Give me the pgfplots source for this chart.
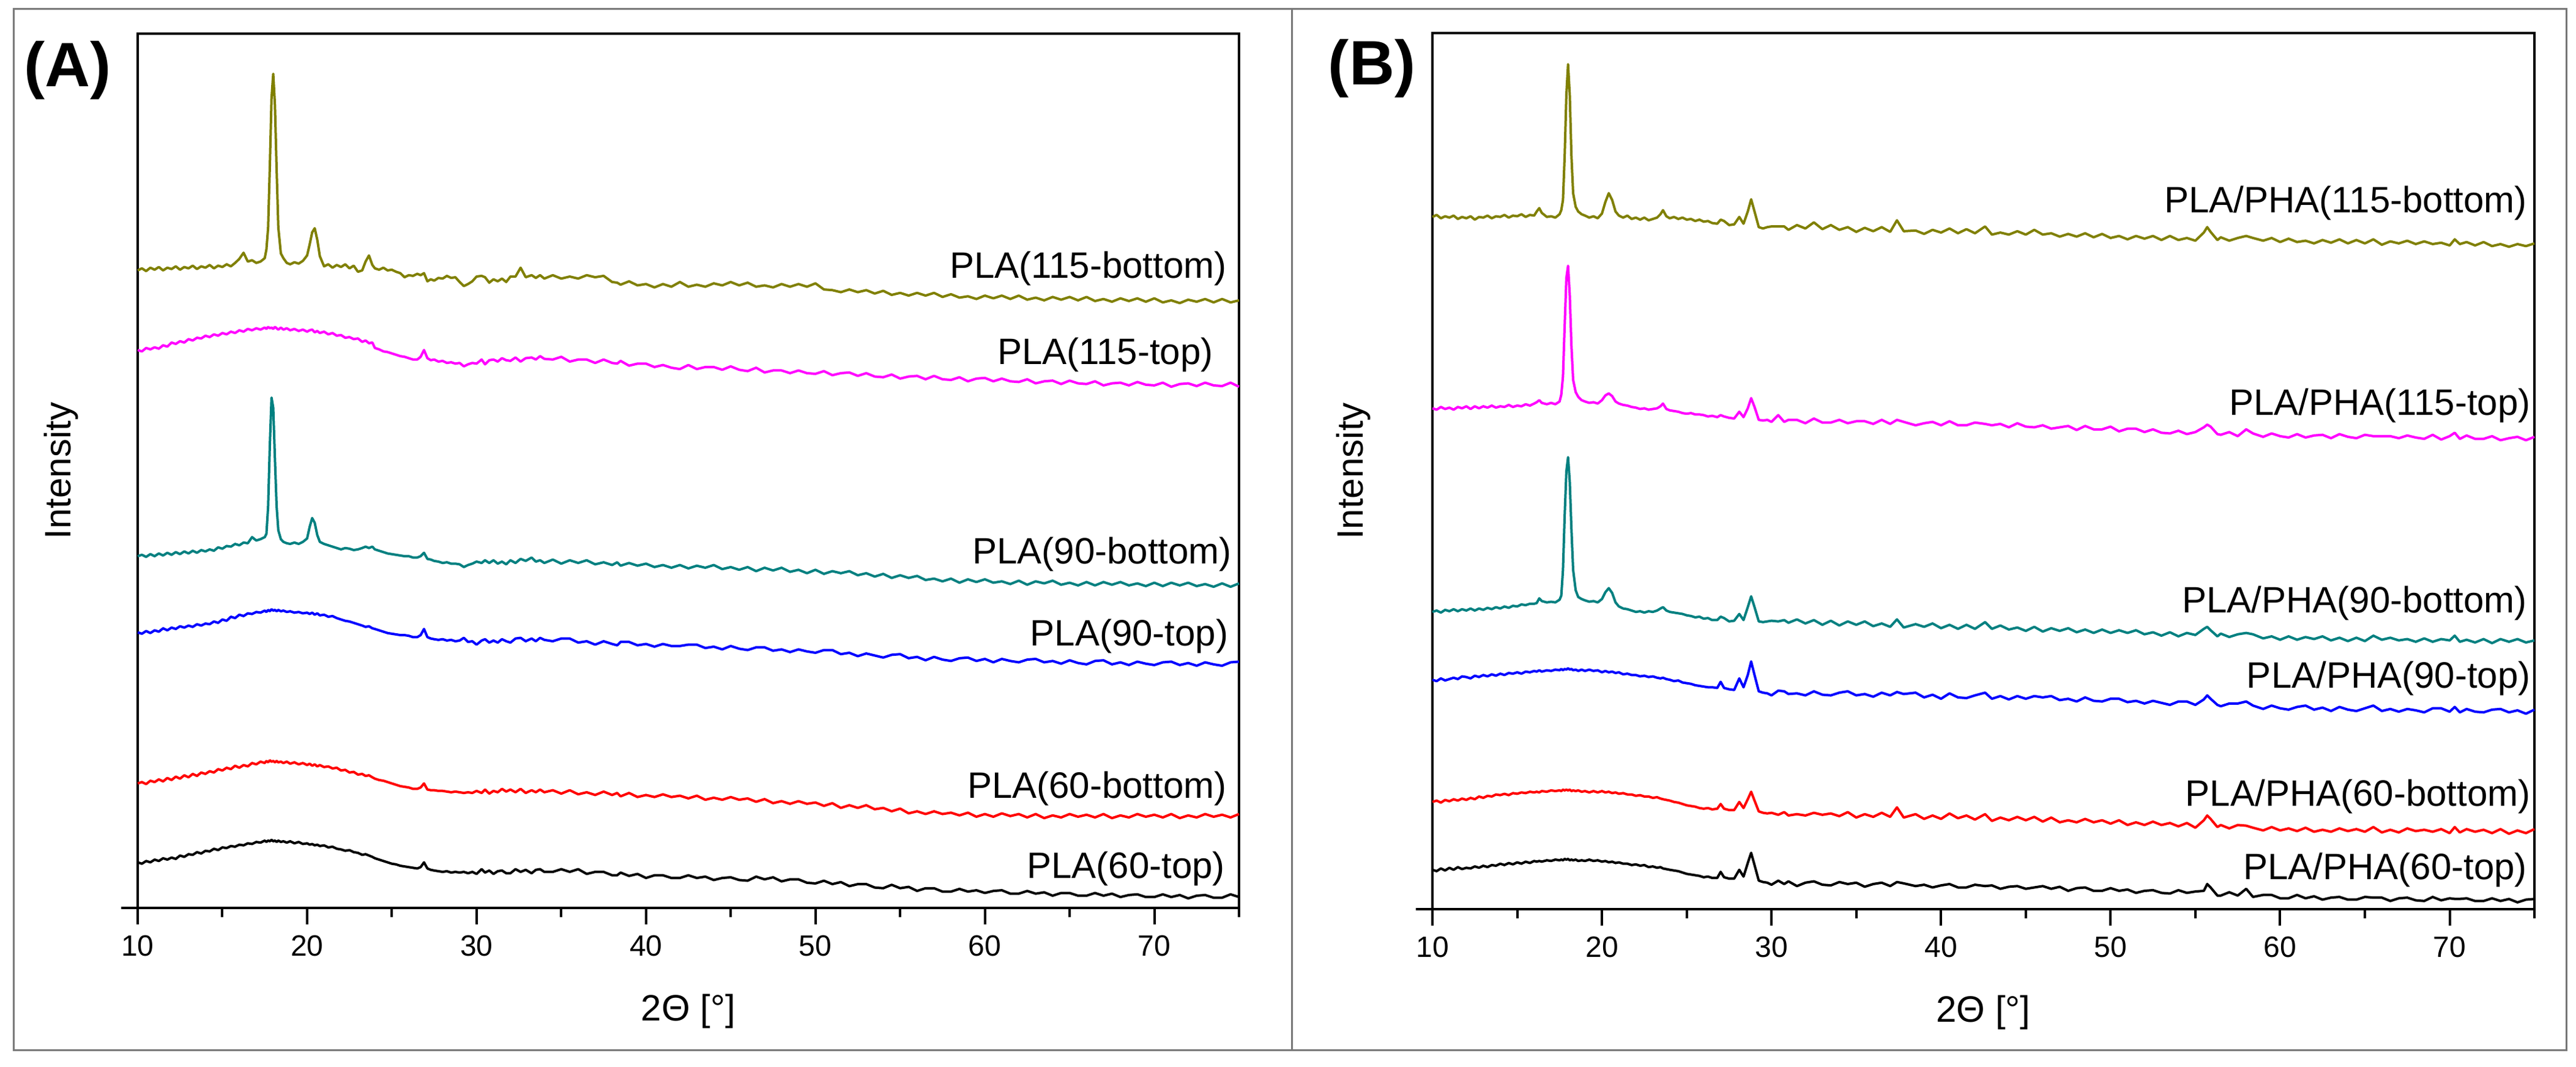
\documentclass[border=0pt]{standalone}
\usepackage{pgfplots}
\pgfplotsset{compat=1.18}
\usepackage{pgfplotstable}
\usepackage{fontspec}
\setmainfont{Liberation Sans}
\definecolor{cOlive}{RGB}{128,128,0}
\definecolor{cMag}{RGB}{255,0,255}
\definecolor{cTeal}{RGB}{0,128,128}
\definecolor{cBlue}{RGB}{0,0,255}
\definecolor{cRed}{RGB}{255,0,0}
\definecolor{cFrame}{RGB}{120,120,120}

\pgfplotstableread{
x a1 a2 a3 a4 a5 a6
10.00 937 820 517 405 183 67
10.25 940 818 519 403 185 65
10.50 936 823 516 407 182 69
10.75 941 821 520 404 187 67
11.00 938 824 517 408 185 71
11.25 942 822 521 406 189 69
11.50 937 827 518 411 186 73
11.75 941 825 522 408 191 71
12.00 939 831 519 412 188 74
12.25 943 829 523 410 193 72
12.50 938 833 520 414 190 77
12.75 942 831 524 412 195 75
13.00 940 836 521 415 192 79
13.25 944 834 525 413 197 78
13.50 939 838 522 417 194 82
13.75 943 837 526 415 199 80
14.00 941 841 524 418 197 84
14.25 945 839 527 417 201 83
14.50 940 843 525 421 199 87
14.75 944 841 530 419 204 85
15.00 942 845 528 424 202 89
15.25 946 843 532 422 206 88
15.50 943 847 531 428 204 91
15.75 948 845 535 426 209 90
16.00 954 849 533 431 206 93
16.25 963 847 537 429 210 92
16.50 950 851 536 433 208 95
16.75 952 849 545 432 213 94
17.00 948 852 540 435 211 97
17.25 950 850 542 434 215 96
17.50 955 853 545 437 213 99
17.60 968 851 550 435 216 97
17.70 1000 854 590 438 214 99
17.80 1090 852 680 436 217 98
17.90 1190 853 750 439 215 100
18.00 1226 851 735 437 216 98
18.10 1180 854 660 438 214 99
18.20 1085 852 590 436 216 97
18.30 1000 850 555 438 214 99
18.45 962 853 542 436 215 97
18.60 955 850 538 437 213 98
18.80 948 852 536 435 215 96
19.00 946 849 535 436 212 98
19.25 949 851 537 434 214 95
19.50 947 848 535 435 211 97
19.75 951 850 538 433 213 94
20.00 959 847 543 434 210 95
20.15 975 849 560 432 212 93
20.30 993 850 573 434 209 94
20.45 999 846 566 431 211 92
20.60 982 848 548 433 208 93
20.75 958 845 538 430 210 91
21.00 943 847 535 431 207 92
21.25 946 843 533 428 208 89
21.50 941 845 531 429 205 90
21.75 945 841 529 426 206 87
22.00 942 842 527 424 202 86
22.25 946 838 529 422 203 84
22.50 940 839 528 421 199 85
22.75 944 836 526 419 200 82
23.00 935 837 527 417 196 81
23.25 937 832 529 415 197 78
23.45 950 834 531 413 194 79
23.65 959 830 529 414 195 77
23.85 945 831 531 411 192 75
24.00 940 823 527 410 190 73
24.25 938 821 525 408 188 71
24.50 941 818 523 406 187 69
24.75 937 817 521 404 185 67
25.00 938 815 520 403 183 65
25.25 935 813 519 402 181 64
25.50 933 811 518 401 179 62
25.75 927 810 517 401 178 61
26.00 930 808 517 400 177 60
26.25 929 806 515 398 175 59
26.50 932 806 515 398 175 58
26.70 930 810 517 401 177 60
26.90 933 820 522 410 183 67
27.10 921 808 513 398 174 58
27.30 924 805 512 396 173 56
27.50 922 806 510 395 173 55
27.75 926 803 509 394 172 54
28.00 925 804 507 395 172 53
28.25 929 801 508 393 171 54
28.50 926 802 506 394 170 52
28.75 927 800 506 392 171 53
29.00 920 801 505 393 170 52
29.25 914 796 501 397 169 53
29.50 917 799 504 391 170 51
29.75 921 801 506 392 169 53
30.00 928 800 509 387 172 50
30.30 929 806 507 393 169 57
30.50 927 799 511 395 174 52
30.75 919 805 507 390 168 55
31.00 924 806 511 393 172 50
31.25 921 803 506 390 170 54
31.50 925 808 509 395 175 55
31.75 920 805 505 392 171 51
32.00 928 804 511 390 174 51
32.30 928 809 507 396 170 57
32.60 941 803 513 397 175 53
32.90 927 808 510 392 169 56
33.25 930 809 515 396 173 51
33.50 926 806 509 392 170 56
33.75 930 811 511 397 174 57
34.00 925 807 507 394 170 53
34.50 930 806 512 392 173 53
35.00 925 810 506 396 168 57
35.50 928 803 511 396 173 53
36.00 925 806 507 390 167 57
36.50 930 806 511 392 170 50
37.00 927 801 505 387 166 53
37.50 929 806 508 392 171 53
38.00 920 801 504 388 166 48
38.30 919 800 508 386 169 48
38.50 916 804 503 391 164 52
39.00 921 797 507 391 169 47
39.50 915 800 503 386 163 50
40.00 917 800 506 388 166 44
40.50 912 795 501 384 163 48
41.00 917 798 504 388 167 48
41.50 913 794 500 385 163 44
42.00 920 792 504 385 165 44
42.50 913 798 499 387 161 48
43.00 916 792 503 387 165 44
43.50 913 795 500 382 159 46
44.00 918 795 504 384 162 41
44.50 915 791 498 380 159 44
45.00 920 796 501 385 163 45
45.50 915 791 497 381 159 41
46.00 919 789 501 379 161 40
46.50 913 794 495 383 156 46
47.00 915 787 500 383 160 42
47.50 912 790 496 378 154 45
48.00 917 790 500 380 157 39
48.50 913 786 494 376 153 42
49.00 917 790 497 380 157 42
49.50 913 786 492 377 153 37
50.00 918 785 497 375 155 36
50.50 909 789 491 379 150 40
51.00 908 783 495 379 154 35
51.50 905 786 492 373 147 38
52.00 909 787 495 375 151 32
52.50 905 782 489 370 147 35
53.00 908 786 492 374 151 35
53.50 903 781 487 371 145 30
54.00 907 780 491 368 147 29
54.50 901 784 485 372 142 34
55.00 904 778 489 373 146 29
55.50 900 781 485 367 139 31
56.00 904 782 488 369 142 25
56.50 900 777 482 364 138 29
57.00 904 782 484 369 142 29
57.50 898 777 480 365 138 24
58.00 902 776 484 363 140 24
58.50 897 780 478 367 136 28
59.00 899 774 483 368 140 24
59.50 895 778 479 363 134 26
60.00 900 779 483 366 138 22
60.50 896 774 478 361 134 25
61.00 900 778 480 366 139 26
61.50 895 774 476 363 135 21
62.00 900 773 481 361 138 21
62.50 894 777 475 365 133 25
63.00 897 771 480 366 138 21
63.50 893 774 477 361 132 23
64.00 898 775 481 363 136 18
64.50 894 770 475 359 133 22
65.00 898 775 478 364 138 22
65.50 893 771 474 360 134 18
66.00 898 770 479 358 137 18
66.50 892 774 474 363 133 22
67.00 895 768 479 364 138 18
67.50 891 771 475 358 132 21
68.00 896 772 479 361 136 16
68.50 892 768 474 357 133 19
69.00 896 773 477 362 138 20
69.50 891 769 473 359 134 16
70.00 896 768 478 357 137 16
70.50 890 772 473 361 133 20
71.00 893 766 478 362 138 16
71.50 889 770 474 357 132 19
72.00 894 771 478 360 136 14
72.50 891 767 473 356 133 18
73.00 895 772 476 361 138 19
73.50 890 768 472 358 134 15
74.00 895 767 477 356 137 15
74.50 890 772 472 361 133 20
75.00 893 766 477 362 138 16
}\dataA

\pgfplotstableread{
x b1 b2 b3 b4 b5 b6
10.00 1020 738 438 338 158 58
10.25 1023 736 440 336 160 56
10.50 1018 740 437 340 157 60
10.75 1021 737 441 337 161 57
11.00 1019 739 439 339 159 61
11.25 1022 736 442 341 162 58
11.50 1017 740 439 339 160 62
11.75 1020 738 442 343 163 59
12.00 1018 741 440 342 161 61
12.25 1021 737 443 340 164 60
12.50 1016 741 440 344 162 63
12.75 1020 738 443 342 166 61
13.00 1019 741 441 345 164 64
13.25 1022 739 444 343 167 62
13.50 1018 742 442 346 166 65
13.75 1021 739 445 344 169 64
14.00 1020 741 443 347 168 67
14.25 1023 740 446 345 170 65
14.50 1019 743 444 348 168 68
14.75 1022 740 447 347 171 66
15.00 1021 742 446 349 170 69
15.25 1024 741 449 347 172 67
15.50 1020 744 448 350 171 70
15.75 1023 742 450 349 173 68
16.00 1022 745 450 351 172 71
16.15 1028 747 451 350 173 70
16.30 1033 750 458 352 172 71
16.45 1026 746 454 350 174 70
16.75 1020 744 452 352 173 72
17.00 1021 746 453 351 175 71
17.25 1019 744 452 353 174 73
17.50 1024 748 456 352 175 72
17.60 1030 758 462 354 174 73
17.70 1045 785 500 352 176 72
17.80 1110 860 580 354 175 74
17.90 1200 930 645 353 176 73
18.00 1245 948 666 355 175 74
18.10 1200 905 630 353 176 72
18.20 1110 830 560 354 174 73
18.30 1055 780 500 352 175 72
18.45 1035 762 470 353 174 73
18.60 1028 755 460 351 175 71
18.80 1024 750 457 353 173 72
19.00 1022 748 455 351 174 71
19.25 1019 746 453 353 172 73
19.50 1021 747 454 351 174 71
19.75 1018 745 452 352 172 72
20.00 1025 750 457 349 174 70
20.20 1042 757 467 351 172 71
20.40 1055 760 473 349 173 69
20.60 1045 756 466 350 171 70
20.80 1028 748 452 348 172 68
21.00 1022 745 446 349 170 69
21.25 1019 743 443 346 171 67
21.50 1022 742 442 347 169 67
21.75 1017 740 440 345 169 65
22.00 1019 739 438 345 167 66
22.25 1016 737 439 343 168 64
22.50 1019 738 437 344 166 65
22.75 1015 736 439 342 166 62
23.00 1017 737 438 343 164 63
23.25 1019 738 440 341 165 61
23.45 1024 741 443 340 163 62
23.60 1030 745 445 341 162 60
23.80 1021 737 440 339 161 59
24.00 1018 735 438 338 160 58
24.25 1020 734 437 336 158 57
24.50 1017 733 436 337 157 56
24.75 1019 731 435 334 155 54
25.00 1016 730 433 333 153 52
25.25 1017 731 432 332 152 51
25.50 1014 729 430 330 151 50
25.75 1016 729 431 329 149 49
26.00 1013 728 428 328 148 47
26.25 1014 726 429 327 149 48
26.50 1011 727 426 327 147 46
26.80 1010 725 426 326 148 46
27.00 1016 728 431 335 155 55
27.20 1014 726 429 326 148 47
27.50 1008 724 424 324 146 45
27.80 1009 723 425 323 146 45
28.10 1020 733 435 340 158 58
28.35 1010 725 426 327 149 48
28.60 1028 738 445 345 162 68
28.80 1046 753 461 365 173 83
29.00 1028 740 445 345 160 65
29.25 1005 721 424 321 144 42
29.50 1003 720 423 319 142 40
29.75 1005 721 424 318 141 39
30.00 1006 718 425 315 142 36
30.40 1006 728 424 322 139 42
30.75 1006 718 426 321 143 37
31.00 1001 721 422 317 138 41
31.50 1008 721 427 318 140 34
32.00 1003 716 421 315 138 39
32.50 1012 723 426 321 142 41
33.00 1002 717 419 316 139 36
33.50 1008 717 425 315 141 35
34.00 1001 721 418 319 137 40
34.50 1005 716 424 321 143 37
35.00 998 719 419 315 135 39
35.50 1004 719 424 317 140 33
36.00 999 715 417 313 136 37
36.50 1005 721 421 319 142 39
37.00 998 715 416 315 136 34
37.40 1015 721 427 320 150 40
37.80 999 718 415 317 135 38
38.50 1000 713 420 319 140 34
39.00 995 716 416 312 133 36
39.50 1001 718 421 316 138 32
40.00 997 713 414 310 133 35
40.50 1003 719 419 318 141 37
41.00 996 713 413 312 134 32
41.50 1002 713 419 311 138 32
42.00 996 717 413 315 132 36
42.60 1006 715 423 319 140 34
43.00 994 713 413 310 130 35
43.50 997 715 418 314 135 30
44.00 994 710 412 309 131 33
44.50 999 716 415 314 136 34
45.00 994 711 410 310 131 30
45.50 1001 710 416 314 136 32
46.00 994 713 409 312 129 34
46.50 996 708 414 314 135 30
47.00 991 710 410 308 128 33
47.50 995 712 414 310 131 27
48.00 991 706 408 306 128 31
48.50 996 712 412 312 133 32
49.00 990 707 407 307 128 27
49.50 995 707 412 306 131 27
50.00 989 711 407 310 126 31
50.50 992 704 411 310 131 27
51.00 987 708 407 305 124 29
51.50 992 708 411 307 128 24
52.00 988 703 405 303 124 27
52.50 992 707 408 307 129 28
53.00 986 702 403 304 124 24
53.50 992 701 408 301 127 23
54.00 986 705 402 306 122 28
54.50 989 700 407 306 127 24
55.00 985 703 404 301 120 26
55.50 997 710 413 309 131 27
55.70 1005 714 416 315 138 37
55.90 998 711 411 310 133 32
56.30 986 700 402 301 121 20
56.50 990 699 406 299 124 20
57.00 985 703 401 303 119 25
57.50 989 697 405 303 124 20
58.00 992 707 407 306 123 30
58.40 989 701 405 300 120 18
59.00 985 696 399 295 116 21
59.50 989 701 402 300 121 21
60.00 983 697 397 296 116 16
60.50 988 695 402 294 119 16
61.00 983 700 397 298 115 21
61.50 985 695 401 300 120 16
62.00 981 698 398 294 114 19
62.50 986 699 402 297 117 14
63.00 982 694 396 292 114 17
63.50 987 700 400 298 119 18
64.00 981 696 395 294 115 14
64.50 986 694 400 292 118 14
65.00 981 699 395 296 114 18
65.50 987 697 403 300 121 17
66.00 979 697 397 292 113 17
66.50 984 697 400 295 117 12
67.00 981 694 396 291 113 16
67.50 985 698 398 295 119 17
68.00 980 695 394 293 115 13
68.50 984 693 399 290 117 12
69.00 980 699 394 296 114 18
69.50 982 692 398 296 118 13
70.00 978 697 396 291 112 16
70.30 987 702 403 298 121 15
70.60 980 693 394 290 113 15
71.00 983 698 397 295 118 16
71.50 978 693 393 291 114 12
72.00 983 693 398 290 117 12
72.50 977 697 392 294 112 16
73.00 980 691 398 295 118 12
73.50 976 694 394 290 111 15
74.00 980 696 398 293 116 10
74.50 977 691 393 288 112 14
75.00 981 696 396 294 118 15
}\dataB

\pgfplotsset{
  xrd/.style={
    scale only axis,
    xmin=10, xmax=75, ymin=0,
    xtick={10,20,30,40,50,60,70},
    minor xtick={15,25,35,45,55,65,75},
    ytick=\empty,
    tick align=outside, xtick pos=left,
    major tick length=5.4pt, minor tick length=3pt,
    every tick/.style={black, line width=0.8pt},
    every minor tick/.style={black, line width=0.8pt},
    axis line style={line width=0.8pt},
    tick label style={font=\fontsize{9.6}{11}\selectfont},
    /pgf/number format/assume math mode=true,
    label style={font=\fontsize{12}{14}\selectfont},
    xlabel={2Θ [°]},
    ylabel={Intensity},
    xlabel style={at={(axis description cs:0.5,-0.118)}, anchor=center},
    clip=false,
    every axis plot/.append style={line width=0.8pt, line join=round, no markers},
  },
}
\tikzset{lab/.style={anchor=east, inner sep=0pt, font=\fontsize{12}{14}\selectfont}}

\begin{document}
\begin{tikzpicture}
\useasboundingbox (0pt,0pt) rectangle (842pt,348.6pt);
\draw[line width=0.6pt, cFrame] (4.4pt,5.4pt) rectangle (838.8pt,345.6pt);
\draw[line width=0.6pt, cFrame] (422.2pt,5.4pt) -- (422.2pt,345.6pt);

\begin{axis}[xrd, at={(45pt,51.8pt)}, anchor=south west, width=360pt, height=285.8pt, ymax=1285,
  ylabel style={at={(axis description cs:-0.0694,0.5)}, anchor=center}]
\addplot[cOlive] table[x=x,y=a1]{\dataA};
\addplot[cMag] table[x=x,y=a2]{\dataA};
\addplot[cTeal] table[x=x,y=a3]{\dataA};
\addplot[cBlue] table[x=x,y=a4]{\dataA};
\addplot[cRed] table[x=x,y=a5]{\dataA};
\addplot[black] table[x=x,y=a6]{\dataA};
\draw[line width=0.8pt] (axis cs:10,0) -- ++(-5.4pt,0pt);
\node[lab] at (axis cs:74.3,940) {PLA(115-bottom)};
\node[lab] at (axis cs:73.5,813) {PLA(115-top)};
\node[lab] at (axis cs:74.6,520) {PLA(90-bottom)};
\node[lab] at (axis cs:74.4,399) {PLA(90-top)};
\node[lab] at (axis cs:74.3,175) {PLA(60-bottom)};
\node[lab] at (axis cs:74.2,58) {PLA(60-top)};
\end{axis}

\begin{axis}[xrd, at={(468.2pt,51.4pt)}, anchor=south west, width=360.2pt, height=286.4pt, ymax=1291,
  ylabel style={at={(axis description cs:-0.0716,0.5)}, anchor=center}]
\addplot[cOlive] table[x=x,y=b1]{\dataB};
\addplot[cMag] table[x=x,y=b2]{\dataB};
\addplot[cTeal] table[x=x,y=b3]{\dataB};
\addplot[cBlue] table[x=x,y=b4]{\dataB};
\addplot[cRed] table[x=x,y=b5]{\dataB};
\addplot[black] table[x=x,y=b6]{\dataB};
\draw[line width=0.8pt] (axis cs:10,0) -- ++(-5.4pt,0pt);
\node[lab] at (axis cs:74.6,1040) {PLA/PHA(115-bottom)};
\node[lab] at (axis cs:74.8,742) {PLA/PHA(115-top)};
\node[lab] at (axis cs:74.6,451) {PLA/PHA(90-bottom)};
\node[lab] at (axis cs:74.8,340) {PLA/PHA(90-top)};
\node[lab] at (axis cs:74.8,166) {PLA/PHA(60-bottom)};
\node[lab] at (axis cs:74.6,58) {PLA/PHA(60-top)};
\end{axis}

\node[font=\bfseries\fontsize{20.5}{24}\selectfont] at (22.2pt,325.6pt) {(A)};
\node[font=\bfseries\fontsize{20.5}{24}\selectfont] at (448.4pt,326.2pt) {(B)};
\end{tikzpicture}
\end{document}
